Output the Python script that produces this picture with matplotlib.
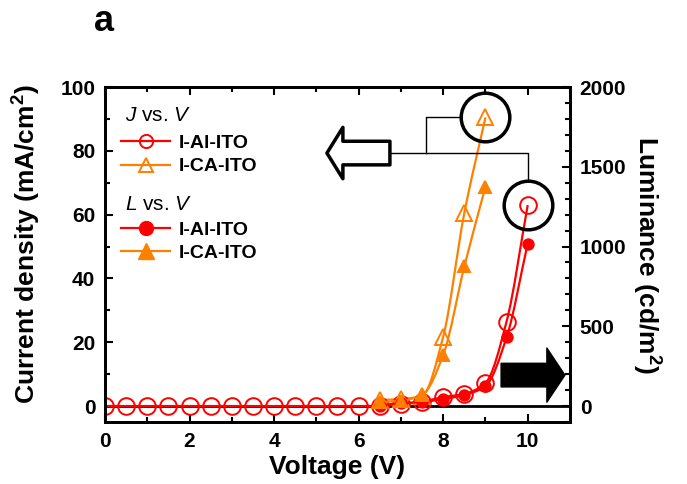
import matplotlib
matplotlib.use('Agg')
import numpy as np
import matplotlib.pyplot as plt
from matplotlib.lines import Line2D
from matplotlib.path import Path
from matplotlib.patches import FancyArrowPatch, ArrowStyle, PathPatch
from matplotlib.ticker import MultipleLocator

plt.rcParams['font.family'] = ['Liberation Sans', 'DejaVu Sans']
plt.rcParams['font.weight'] = 'bold'
plt.rcParams['mathtext.fontset'] = 'custom'
plt.rcParams['mathtext.it'] = 'Liberation Sans:style=italic:weight=normal'
plt.rcParams['mathtext.rm'] = 'Liberation Sans:weight=normal'
plt.rcParams['mathtext.bf'] = 'Liberation Sans:weight=bold'

RED = '#ff0000'
ORANGE = '#ff8000'

# current density J (mA/cm2)
v_jal = [0, 0.5, 1, 1.5, 2, 2.5, 3, 3.5, 4, 4.5, 5, 5.5, 6, 6.5, 7, 7.5, 8, 8.5, 9, 9.5, 10]
j_al = [0, 0, 0, 0, 0, 0, 0, 0, 0, 0, 0, 0, 0, 0.1, 0.6, 1.4, 2.8, 3.8, 7.2, 26.5, 63]
v_jca = [6.5, 7, 7.5, 8, 8.5, 9]
j_ca = [1.9, 2.2, 3.2, 21.7, 60.5, 90.5]

# luminance L (cd/m2)
v_lal = [6.5, 7, 7.5, 8, 8.5, 9, 9.5, 10]
l_al = [2, 19, 25, 44, 69, 125, 431, 1019]
v_lca = [6.5, 7, 7.5, 8, 8.5, 9]
l_ca = [25, 33, 69, 319, 875, 1375]


def smooth_path(x, y):
    """Monotone cubic (Fritsch-Carlson) through the points, as Bezier segments."""
    x = np.asarray(x, float)
    y = np.asarray(y, float)
    h = np.diff(x)
    d = np.diff(y) / h
    m = np.zeros_like(y)
    m[0], m[-1] = d[0], d[-1]
    for i in range(1, len(y) - 1):
        if d[i - 1] * d[i] <= 0:
            m[i] = 0
        else:
            w1, w2 = 2 * h[i] + h[i - 1], h[i] + 2 * h[i - 1]
            m[i] = (w1 + w2) / (w1 / d[i - 1] + w2 / d[i])
    verts = [(x[0], y[0])]
    codes = [Path.MOVETO]
    for i in range(len(x) - 1):
        verts += [(x[i] + h[i] / 3, y[i] + m[i] * h[i] / 3),
                  (x[i + 1] - h[i] / 3, y[i + 1] - m[i + 1] * h[i] / 3),
                  (x[i + 1], y[i + 1])]
        codes += [Path.CURVE4] * 3
    return Path(verts, codes)


def draw_series(a, x, y, color, marker, ms, filled):
    a.add_patch(PathPatch(smooth_path(x, y), fill=False, edgecolor=color, lw=1.6, zorder=2))
    a.plot(x, y, linestyle='none', marker=marker, ms=ms, mfc=color if filled else 'none',
           mec=color, mew=1.4, zorder=3)


fig = plt.figure(figsize=(6.87, 4.84), dpi=100)
ax = fig.add_axes([0.1528, 0.1281, 0.6769, 0.6921])
ax2 = ax.twinx()

ax.axhline(0, color='k', lw=2, zorder=1)

draw_series(ax, v_jal, j_al, RED, 'o', 12, False)
draw_series(ax, v_jca, j_ca, ORANGE, '^', 12, False)
draw_series(ax2, v_lal, l_al, RED, 'o', 7.5, True)
draw_series(ax2, v_lca, l_ca, ORANGE, '^', 8.5, True)

ax.set_xlim(0, 11)
ax.set_ylim(-5, 100)
ax2.set_ylim(-100, 2000)

ax.xaxis.set_major_locator(MultipleLocator(2))
ax.xaxis.set_minor_locator(MultipleLocator(1))
ax.yaxis.set_major_locator(MultipleLocator(20))
ax.yaxis.set_minor_locator(MultipleLocator(10))
ax2.yaxis.set_major_locator(MultipleLocator(500))
ax2.yaxis.set_minor_locator(MultipleLocator(100))

for a in (ax, ax2):
    for s in a.spines.values():
        s.set_linewidth(2)
    a.tick_params(which='both', direction='in', width=1.5, labelsize=15, pad=7)
    a.tick_params(which='major', length=6)
    a.tick_params(which='minor', length=3.5)
ax.tick_params(axis='x', which='both', top=True)

ax.set_xlabel('Voltage (V)', fontsize=19, fontweight='bold', labelpad=3)
ax.set_ylabel('Current density (mA/cm$^\\mathbf{2}$)', fontsize=19, fontweight='bold')
ax.yaxis.set_label_coords(-0.133, 0.531)
ax2.set_ylabel('Luminance (cd/m$^\\mathbf{2}$)', fontsize=19, fontweight='bold', rotation=270, labelpad=26)

# legends: J vs. V and L vs. V
h_j = [Line2D([], [], color=RED, lw=1.6, marker='o', ms=9.5, mfc='none', mew=1.4),
       Line2D([], [], color=ORANGE, lw=1.6, marker='^', ms=10, mfc='none', mew=1.4)]
h_l = [Line2D([], [], color=RED, lw=1.6, marker='o', ms=10, mfc=RED),
       Line2D([], [], color=ORANGE, lw=1.6, marker='^', ms=11, mfc=ORANGE)]
names = ['I-Al-ITO', 'I-CA-ITO']
leg_kw = dict(loc='upper left', frameon=False, fontsize=14,
              handlelength=2.5, handletextpad=0.45, labelspacing=0.3,
              borderpad=0, borderaxespad=0)
leg1 = ax2.legend(h_j, names, bbox_to_anchor=(0.035, 0.859), **leg_kw)
ax2.add_artist(leg1)
leg2 = ax2.legend(h_l, names, bbox_to_anchor=(0.035, 0.60), **leg_kw)
ax2.text(0.043, 0.916, '$J$ vs. $V$', transform=ax2.transAxes, fontsize=15, fontweight='normal', va='center')
ax2.text(0.043, 0.648, '$L$ vs. $V$', transform=ax2.transAxes, fontsize=15, fontweight='normal', va='center')

# highlight circles around the last J points
ax.plot([v_jca[-1], v_jal[-1]], [j_ca[-1], j_al[-1]], 'o', ms=35, mfc='none', mec='k', mew=2.5, zorder=5)

# bracket joining the circles to the left arrow
bx, by = 7.6, 79.3
ax.plot([v_jca[-1] - 0.57, bx, bx], [j_ca[-1], j_ca[-1], by], color='k', lw=1, zorder=4)
ax.plot([6.74, v_jal[-1], v_jal[-1]], [by, by, j_al[-1] + 7.6], color='k', lw=1, zorder=4)

left_arrow = FancyArrowPatch((6.74, by), (5.25, by),
                             arrowstyle=ArrowStyle.Simple(head_length=11.5, head_width=37, tail_width=17),
                             mutation_scale=1, fc='white', ec='k', lw=2.5, shrinkA=0, shrinkB=0, zorder=5)
ax.add_patch(left_arrow)
right_arrow = FancyArrowPatch((9.37, 9.7), (10.88, 9.7),
                              arrowstyle=ArrowStyle.Simple(head_length=13, head_width=39, tail_width=17),
                              mutation_scale=1, fc='k', ec='k', lw=1, shrinkA=0, shrinkB=0, zorder=5)
ax.add_patch(right_arrow)

fig.text(0.137, 0.955, 'a', fontsize=26, fontweight='bold', va='center', ha='left')

fig.savefig('out.png', dpi=100)
